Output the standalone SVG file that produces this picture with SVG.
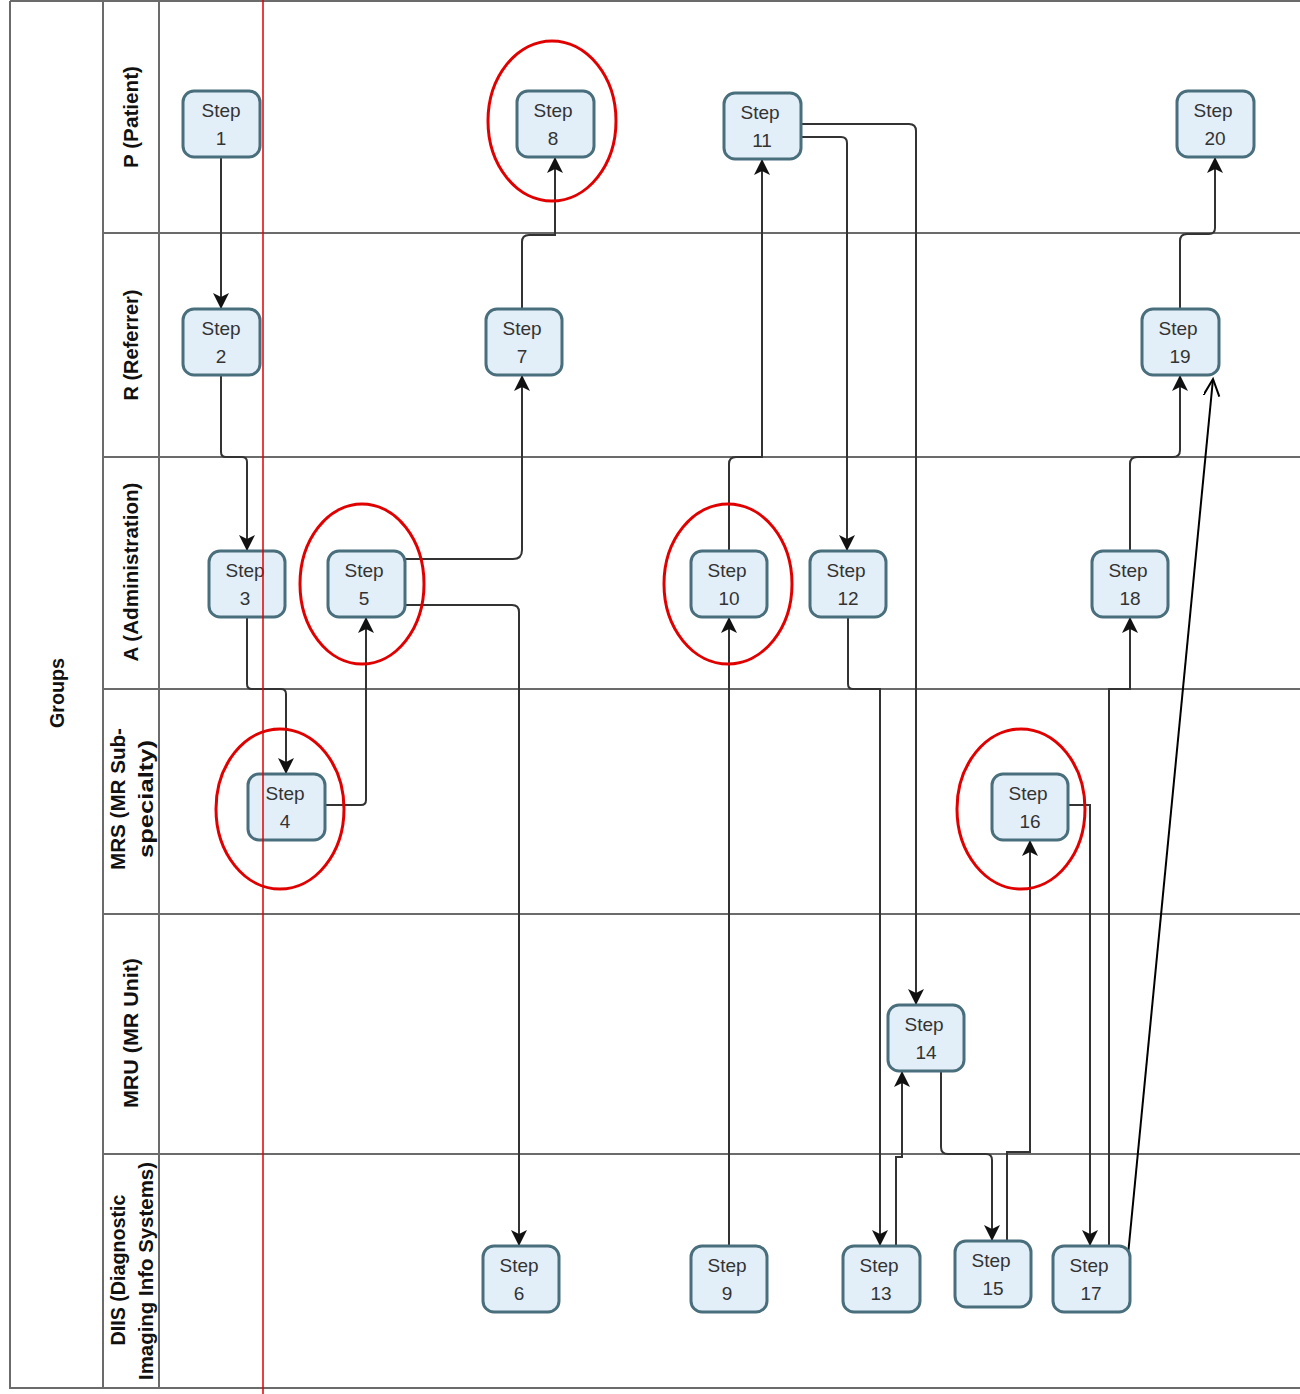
<svg xmlns="http://www.w3.org/2000/svg" width="1300" height="1394" viewBox="0 0 1300 1394">
<defs>
<style>
.lane{stroke:#6b6b6b;stroke-width:2;fill:none}
.lbl{font-family:"Liberation Sans",Arial,sans-serif;font-weight:bold;font-size:20px;fill:#111;text-anchor:middle}
.node rect{fill:#e3eff8;stroke:#4a6f7c;stroke-width:3}
.node text{font-family:"Liberation Sans",Arial,sans-serif;font-size:19px;fill:#333;text-anchor:middle}
.conn path{stroke:#333;stroke-width:2;fill:none;marker-end:url(#arr)}
.red{stroke:#e00000;stroke-width:3;fill:none}
</style>
<marker id="arr" markerUnits="userSpaceOnUse" markerWidth="18" markerHeight="18" refX="15" refY="8" orient="auto">
<path d="M0,0 L16,8 L0,16 L4,8 z" fill="#111"/>
</marker>
<marker id="open" markerUnits="userSpaceOnUse" markerWidth="20" markerHeight="20" refX="17" refY="8" orient="auto">
<path d="M0,0 L17,8 L0,16" fill="none" stroke="#000" stroke-width="2"/>
</marker>
</defs>
<rect width="1300" height="1394" fill="#fff"/>
<g id="lanes">
<path class="lane" d="M10,1 H1300 M10,1 V1388 H1300 M103,1 V1388 M159,1 V1388"/>
<path class="lane" d="M103,233 H1300 M103,457 H1300 M103,689 H1300 M103,914 H1300 M103,1154 H1300"/>
<text class="lbl" transform="translate(64,693) rotate(-90)" textLength="70" lengthAdjust="spacingAndGlyphs">Groups</text>
<text class="lbl" transform="translate(138,117) rotate(-90)" textLength="102" lengthAdjust="spacingAndGlyphs">P (Patient)</text>
<text class="lbl" transform="translate(138,345) rotate(-90)" textLength="111" lengthAdjust="spacingAndGlyphs">R (Referrer)</text>
<text class="lbl" transform="translate(138,572) rotate(-90)" textLength="179" lengthAdjust="spacingAndGlyphs">A (Administration)</text>
<text class="lbl" transform="translate(125,799) rotate(-90)" textLength="142" lengthAdjust="spacingAndGlyphs">MRS (MR Sub-</text>
<text class="lbl" transform="translate(153,799) rotate(-90)" textLength="118" lengthAdjust="spacingAndGlyphs">specialty)</text>
<text class="lbl" transform="translate(138,1033) rotate(-90)" textLength="150" lengthAdjust="spacingAndGlyphs">MRU (MR Unit)</text>
<text class="lbl" transform="translate(125,1270) rotate(-90)" textLength="151" lengthAdjust="spacingAndGlyphs">DIIS (Diagnostic</text>
<text class="lbl" transform="translate(153,1271) rotate(-90)" textLength="218" lengthAdjust="spacingAndGlyphs">Imaging Info Systems)</text>
</g>
<g id="connectors" class="conn">
<path d="M221,157 V308"/>
<path d="M221,375 V452 Q221,457 226,457 H242 Q247,457 247,462 V550"/>
<path d="M247,617 V684 Q247,689 252,689 H281 Q286,689 286,694 V773"/>
<path d="M325,805 H361 Q366,805 366,800 V618"/>
<path d="M405,559 H513 Q522,559 522,550 V376"/>
<path d="M522,309 V242 Q522,235 529,235 H555 V158"/>
<path d="M405,605 H512 Q519,605 519,612 V1245"/>
<path d="M729,1246 V618"/>
<path d="M729,551 V464 Q729,457 736,457 H762 V160"/>
<path d="M801,137 H841 Q847,137 847,143 V550"/>
<path d="M801,124 H909 Q916,124 916,131 V1004"/>
<path d="M848,617 V684 Q848,689 853,689 H880 V1245"/>
<path d="M896,1246 V1157 H902 V1072"/>
<path d="M941,1071 V1147 Q941,1154 948,1154 H986 Q992,1154 992,1160 V1240"/>
<path d="M1007,1241 V1152 H1030 V841"/>
<path d="M1068,805 H1090 V1245"/>
<path d="M1109,1246 V689 H1130 V618"/>
<path d="M1130,551 V464 Q1130,457 1137,457 H1173 Q1180,457 1180,450 V376"/>
<path d="M1180,309 V241 Q1180,234 1187,234 H1209 Q1215,234 1215,228 V158"/>
<path d="M1128,1255 L1213,379" style="stroke:#000;marker-end:url(#open)"/>
</g>
<g id="step1" class="node"><rect x="183" y="91" width="77" height="66" rx="11"/><text x="221" y="117">Step</text><text x="221" y="145">1</text></g>
<g id="step2" class="node"><rect x="183" y="309" width="77" height="66" rx="11"/><text x="221" y="335">Step</text><text x="221" y="363">2</text></g>
<g id="step3" class="node"><rect x="209" y="551" width="76" height="66" rx="11"/><text x="245" y="577">Step</text><text x="245" y="605">3</text></g>
<g id="step4" class="node"><rect x="248" y="774" width="77" height="66" rx="11"/><text x="285" y="800">Step</text><text x="285" y="828">4</text></g>
<g id="step5" class="node"><rect x="328" y="551" width="77" height="66" rx="11"/><text x="364" y="577">Step</text><text x="364" y="605">5</text></g>
<g id="step6" class="node"><rect x="483" y="1246" width="76" height="66" rx="11"/><text x="519" y="1272">Step</text><text x="519" y="1300">6</text></g>
<g id="step7" class="node"><rect x="486" y="309" width="76" height="66" rx="11"/><text x="522" y="335">Step</text><text x="522" y="363">7</text></g>
<g id="step8" class="node"><rect x="517" y="91" width="77" height="66" rx="11"/><text x="553" y="117">Step</text><text x="553" y="145">8</text></g>
<g id="step9" class="node"><rect x="691" y="1246" width="76" height="66" rx="11"/><text x="727" y="1272">Step</text><text x="727" y="1300">9</text></g>
<g id="step10" class="node"><rect x="691" y="551" width="76" height="66" rx="11"/><text x="727" y="577">Step</text><text x="729" y="605">10</text></g>
<g id="step11" class="node"><rect x="724" y="93" width="77" height="66" rx="11"/><text x="760" y="119">Step</text><text x="762" y="147">11</text></g>
<g id="step12" class="node"><rect x="810" y="551" width="76" height="66" rx="11"/><text x="846" y="577">Step</text><text x="848" y="605">12</text></g>
<g id="step13" class="node"><rect x="843" y="1246" width="77" height="66" rx="11"/><text x="879" y="1272">Step</text><text x="881" y="1300">13</text></g>
<g id="step14" class="node"><rect x="888" y="1005" width="76" height="66" rx="11"/><text x="924" y="1031">Step</text><text x="926" y="1059">14</text></g>
<g id="step15" class="node"><rect x="955" y="1241" width="76" height="66" rx="11"/><text x="991" y="1267">Step</text><text x="993" y="1295">15</text></g>
<g id="step16" class="node"><rect x="992" y="774" width="76" height="66" rx="11"/><text x="1028" y="800">Step</text><text x="1030" y="828">16</text></g>
<g id="step17" class="node"><rect x="1053" y="1246" width="77" height="66" rx="11"/><text x="1089" y="1272">Step</text><text x="1091" y="1300">17</text></g>
<g id="step18" class="node"><rect x="1092" y="551" width="76" height="66" rx="11"/><text x="1128" y="577">Step</text><text x="1130" y="605">18</text></g>
<g id="step19" class="node"><rect x="1142" y="309" width="77" height="66" rx="11"/><text x="1178" y="335">Step</text><text x="1180" y="363">19</text></g>
<g id="step20" class="node"><rect x="1177" y="91" width="77" height="66" rx="11"/><text x="1213" y="117">Step</text><text x="1215" y="145">20</text></g>
<g id="annotations">
<line x1="263" y1="0" x2="263" y2="1394" stroke="#e00000" stroke-width="1.5"/>
<ellipse class="red" cx="552" cy="121" rx="64" ry="80"/>
<ellipse class="red" cx="362" cy="584" rx="62" ry="80"/>
<ellipse class="red" cx="728" cy="584" rx="64" ry="80"/>
<ellipse class="red" cx="280" cy="809" rx="64" ry="80"/>
<ellipse class="red" cx="1021" cy="809" rx="64" ry="80"/>
</g>
</svg>
